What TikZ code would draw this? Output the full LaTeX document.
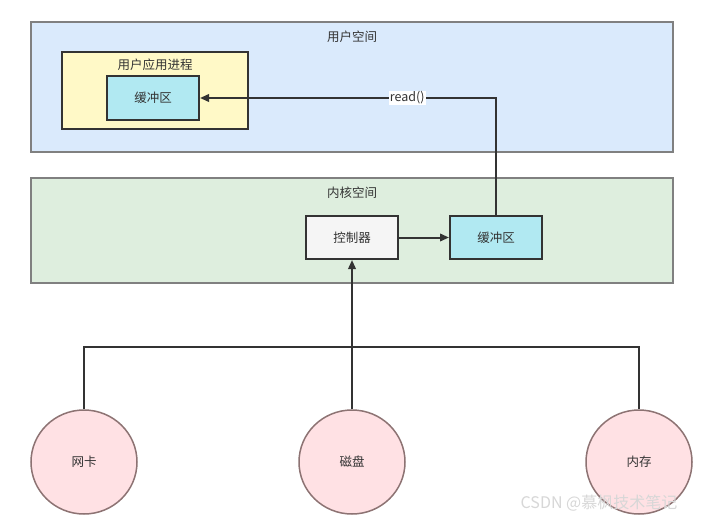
\documentclass[tikz,border=0pt]{standalone}
\usepackage{fontspec}
\setmainfont{Noto Sans CJK SC}
\usepackage{tikz}
\usetikzlibrary{calc}
\usetikzlibrary{arrows.meta}
\usetikzlibrary{positioning}
\usetikzlibrary{shapes.geometric}
\definecolor{userblue}{RGB}{218, 234, 252}
\definecolor{kernelgreen}{RGB}{222, 238, 222}
\definecolor{procyellow}{RGB}{255, 249, 199}
\definecolor{bufcyan}{RGB}{177, 233, 242}
\definecolor{ctrlgray}{RGB}{245, 245, 245}
\definecolor{devpink}{RGB}{255, 225, 228}
\definecolor{framegray}{RGB}{128, 128, 128}
\definecolor{linedark}{RGB}{51, 51, 51}
\definecolor{markgray}{RGB}{215, 215, 215}
\tikzset{
    every node/.style={font=\fontsize{12.5}{14}\selectfont, text=linedark},
    space/.style={draw=framegray, line width=1.3pt, inner sep=0pt},
    box/.style={draw=linedark, line width=2pt, inner sep=0pt, minimum width=92, minimum height=43},
    device/.style={ellipse, draw=framegray!90!red, line width=1.5pt, fill=devpink, minimum width=106, minimum height=104, inner sep=0pt},
    link/.style={draw=linedark, line width=2pt},
    arrowtip/.style={-{Triangle[length=9pt,width=7.5pt]}},
}
\begin{document}
\begin{tikzpicture}[x=1pt, y=-1pt]
            % Frame to ensure alignment
            \useasboundingbox[fill=white] (0,0) rectangle (711,524);
            % User space
            \node[space, fill=userblue, minimum width=642, minimum height=130] (user) at (352,87) {};
            \node (userlbl) at (352,37) {用户空间};
            \node[box, fill=procyellow, minimum width=186, minimum height=77] (proc) at (155,90.5) {};
            \node (proclbl) at (155,65) {用户应用进程};
            \node[box, fill=bufcyan] (ubuf) at (153,98) {缓冲区};
            % Kernel space
            \node[space, fill=kernelgreen, minimum width=642, minimum height=105] (kernel) at (352,230.5) {};
            \node (kernellbl) at (352,193) {内核空间};
            \node[box, fill=ctrlgray] (ctrl) at (352,237.5) {控制器};
            \node[box, fill=bufcyan] (kbuf) at (496,237.5) {缓冲区};
            % Devices
            \node[device] (nic) at (84,462) {网卡};
            \node[device] (disk) at (352,462) {磁盘};
            \node[device] (mem) at (639,462) {内存};
            \coordinate (bus) at (352,347);
            % Connectors
            \draw[link] (nic.north) |- (bus) -| (mem.north);
            \draw[link, arrowtip] (disk.north) -- (ctrl.south);
            \draw[link, arrowtip] (ctrl.east) -- (kbuf.west);
            \draw[link, arrowtip] (kbuf.north) |- node[pos=0.65, fill=white, inner sep=1pt] {read()} (ubuf.east);
            % Watermark
            \node[text=markgray, font=\fontsize{16}{18}\selectfont] (mark) at (599,503) {CSDN @慕枫技术笔记};
\end{tikzpicture}
\end{document}
